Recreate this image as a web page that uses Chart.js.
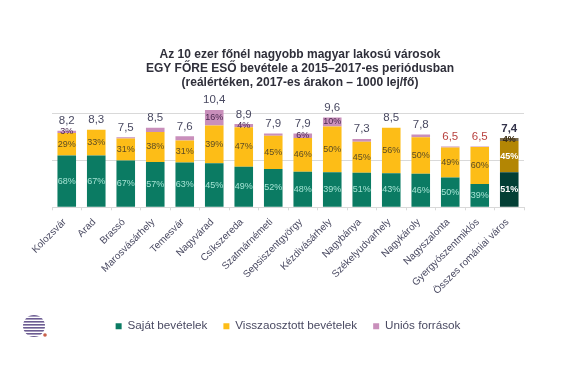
<!DOCTYPE html>
<html>
<head>
<meta charset="utf-8">
<script src="https://cdn.jsdelivr.net/npm/chart.js@4"></script>
<style>
    html, body { margin: 0; padding: 0; background: #fff; }
    canvas { display: block; }
</style>
</head>
<body>
<canvas id="grafico" width="575" height="387"></canvas>
<script>
const varosok = ['Kolozsvár', 'Arad', 'Brassó', 'Marosvásárhely', 'Temesvár', 'Nagyvárad', 'Csíkszereda', 'Szatmárnémeti',
    'Sepsiszentgyörgy', 'Kézdivásárhely', 'Nagybánya', 'Székelyudvarhely', 'Nagykároly', 'Nagyszalonta', 'Gyergyószentmiklós', 'Összes romániai város'];

// 1000 lej/fő
const sajat = [5.55, 5.55, 5.0, 4.85, 4.8, 4.7, 4.35, 4.1, 3.8, 3.75, 3.7, 3.65, 3.6, 3.2, 2.5, 3.75];
const visszaosztott = [2.4, 2.75, 2.35, 3.2, 2.35, 4.05, 4.2, 3.55, 3.6, 4.9, 3.3, 4.85, 3.9, 3.2, 3.95, 3.35];
const unios = [0.25, 0, 0.15, 0.45, 0.45, 1.65, 0.35, 0.25, 0.5, 0.95, 0.3, 0, 0.3, 0.1, 0.05, 0.3];

const osszesen = ['8,2', '8,3', '7,5', '8,5', '7,6', '10,4', '8,9', '7,9', '7,9', '9,6', '7,3', '8,5', '7,8', '6,5', '6,5', '7,4'];
const sajatSzazalek = [68, 67, 67, 57, 63, 45, 49, 52, 48, 39, 51, 43, 46, 50, 39, 51];
const visszaSzazalek = [29, 33, 31, 38, 31, 39, 47, 45, 46, 50, 45, 56, 50, 49, 60, 45];
const uniosSzazalek = [3, null, null, null, null, 16, 4, null, 6, 10, null, null, null, null, null, 4];
const szazalekok = [sajatSzazalek, visszaSzazalek, uniosSzazalek];

const utolso = varosok.length - 1;
const betu = 'Liberation Sans';
const szoveg = '#4a4a62';

// Százalékok a szegmensekben és az összeg a oszlopok fölött
const feliratok = {
    id: 'feliratok',
    afterLayout(chart) {
        // a cím a rajzterülethez képest kissé jobbra van
        chart.titleBlock.left += 12;
        chart.titleBlock.right += 12;
    },
    afterDatasetsDraw(chart) {
        const ctx = chart.ctx;
        ctx.save();
        ctx.textAlign = 'center';
        szazalekok.forEach((sor, d) => {
            chart.getDatasetMeta(d).data.forEach((oszlop, i) => {
                if (sor[i] === null) return;
                const kozep = (oszlop.y + oszlop.base) / 2;
                ctx.textBaseline = 'middle';
                if (i === utolso) {
                    ctx.font = `bold 9px "${betu}"`;
                    ctx.fillStyle = d === 2 ? '#3a2c10' : '#ffffff';
                } else {
                    ctx.font = `9px "${betu}"`;
                    ctx.fillStyle = d === 0 ? '#a5e3d4' : (d === 1 ? '#5c4c24' : '#4a2a50');
                }
                ctx.fillText(sor[i] + '%', oszlop.x, kozep);
            });
        });
        const felso = chart.getDatasetMeta(2).data;
        osszesen.forEach((ertek, i) => {
            ctx.textBaseline = 'bottom';
            ctx.font = (i === utolso ? 'bold ' : '') + `11.5px "${betu}"`;
            ctx.fillStyle = i === utolso ? '#33334a' : (i === 13 || i === 14 ? '#b8413f' : szoveg);
            ctx.fillText(ertek, felso[i].x, felso[i].y - 4);
        });
        ctx.restore();
    }
};

// A logó a bal alsó sarokban
const logo = {
    id: 'logo',
    afterDraw(chart) {
        const ctx = chart.ctx;
        ctx.save();
        ctx.beginPath();
        ctx.arc(34, 326, 11, 0, Math.PI * 2);
        ctx.clip();
        ctx.fillStyle = '#6c5c92';
        for (let y = 315; y < 338; y += 3) ctx.fillRect(22, y, 24, 1.6);
        ctx.restore();
        ctx.fillStyle = '#c8604a';
        ctx.beginPath();
        ctx.arc(45, 335, 1.8, 0, Math.PI * 2);
        ctx.fill();
    }
};

new Chart(document.getElementById('grafico'), {
    type: 'bar',
    data: {
        labels: varosok,
        datasets: [
            { label: 'Saját bevételek', data: sajat, backgroundColor: c => c.dataIndex === utolso ? '#033f35' : '#0b7b63' },
            { label: 'Visszaosztott bevételek', data: visszaosztott, backgroundColor: c => c.dataIndex === utolso ? '#b38604' : '#fdbd17' },
            { label: 'Uniós források', data: unios, backgroundColor: c => c.dataIndex === utolso ? '#7a6a4a' : '#c98fbb' }
        ]
    },
    options: {
        responsive: false,
        animation: false,
        layout: { padding: { left: 52, right: 51, top: 48, bottom: 45 } },
        datasets: { bar: { categoryPercentage: 0.63, barPercentage: 1 } },
        scales: {
            x: {
                stacked: true,
                afterFit: s => { s.height = 97; },
                grid: { drawOnChartArea: false, color: '#d9d9d9', tickLength: 3 },
                border: { color: '#d9d9d9' },
                ticks: { minRotation: 45, maxRotation: 45, autoSkip: false, padding: 6, labelOffset: -2, color: szoveg, font: { family: betu, size: 10 } }
            },
            y: {
                stacked: true,
                display: true,
                min: 0,
                max: 12,
                afterFit: s => { s.width = 0; },
                grid: { color: c => c.tick.value % 5 === 0 ? '#d9d9d9' : 'transparent', drawTicks: false },
                border: { display: false },
                ticks: { stepSize: 5, display: false }
            }
        },
        plugins: {
            tooltip: { enabled: false },
            title: {
                display: true,
                text: ['Az 10 ezer főnél nagyobb magyar lakosú városok', 'EGY FŐRE ESŐ bevétele a 2015–2017-es periódusban', '(reálértéken, 2017-es árakon – 1000 lej/fő)'],
                color: '#2f2f3a',
                font: { family: betu, size: 12, weight: 'bold', lineHeight: 1.17 },
                padding: { top: 0, bottom: 5 }
            },
            legend: {
                position: 'bottom',
                labels: { usePointStyle: true, pointStyle: 'rect', boxWidth: 6, boxHeight: 6, padding: 16, color: szoveg, font: { family: betu, size: 11.7 } }
            }
        }
    },
    plugins: [feliratok, logo]
});
</script>
</body>
</html>
